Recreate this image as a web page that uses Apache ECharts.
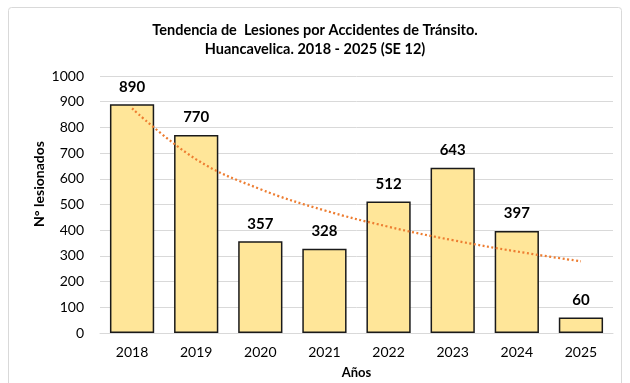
<!DOCTYPE html>
<html>
<head>
<meta charset="utf-8">
<script src="https://cdn.jsdelivr.net/npm/echarts@6/dist/echarts.min.js"></script>
<style>
  html, body { margin: 0; padding: 0; background: #fff; }
  #chart { width: 630px; height: 383px; }
</style>
</head>
<body>
<div id="chart"></div>
<script>
// Injured people in traffic accidents, Huancavelica, by year
const years = ['2018', '2019', '2020', '2021', '2022', '2023', '2024', '2025'];
const injured = [890, 770, 357, 328, 512, 643, 397, 60];
const yTicks = [0, 100, 200, 300, 400, 500, 600, 700, 800, 900, 1000];

// Logarithmic trend line (least squares fit of y = a + b·ln(x), x = 1..n)
function logTrend(values) {
  const n = values.length;
  const lx = values.map((_, i) => Math.log(i + 1));
  const mx = lx.reduce((s, v) => s + v, 0) / n;
  const my = values.reduce((s, v) => s + v, 0) / n;
  let sxx = 0, sxy = 0;
  for (let i = 0; i < n; i++) {
    sxx += (lx[i] - mx) * (lx[i] - mx);
    sxy += (lx[i] - mx) * values[i];
  }
  const b = sxy / sxx;
  const a = my - b * mx;
  return lx.map(v => +(a + b * v).toFixed(1));
}
const trend = logTrend(injured);

const FONT = 'Lato';
const chart = echarts.init(document.getElementById('chart'), null, { renderer: 'canvas' });

chart.setOption({
  animation: false,
  backgroundColor: '#fff',
  textStyle: { fontFamily: FONT, color: '#000' },
  title: {
    text: 'Tendencia de  Lesiones por Accidentes de Tránsito.\nHuancavelica. 2018 - 2025 (SE 12)',
    left: 'center',
    top: 16,
    textStyle: { fontFamily: FONT, fontSize: 14.5, fontWeight: 'bold', color: '#000', lineHeight: 19 }
  },
  graphic: [
    {
      type: 'rect',
      shape: { x: 8.5, y: 7.5, width: 613, height: 390, r: 3 },
      style: { fill: 'none', stroke: '#d9d9d9', lineWidth: 1 },
      silent: true
    },
    {
      type: 'text',
      x: 39, y: 184, rotation: Math.PI / 2,
      style: { text: 'N° lesionados', font: 'bold 14px ' + FONT, fill: '#000', align: 'center', verticalAlign: 'middle' }
    }
  ],
  grid: { left: 100, right: 17, top: 76, bottom: 50, outerBoundsMode: 'none', containLabel: false },
  xAxis: {
    type: 'category',
    data: years,
    name: 'Años',
    nameLocation: 'middle',
    nameGap: 33,
    nameTextStyle: { fontFamily: FONT, fontSize: 13, fontWeight: 'bold', color: '#000' },
    axisLine: { lineStyle: { color: '#d9d9d9', width: 1 } },
    axisTick: { show: false },
    axisLabel: { fontFamily: FONT, fontSize: 14, color: '#000', margin: 12 }
  },
  yAxis: {
    type: 'value',
    min: yTicks[0],
    max: yTicks[yTicks.length - 1],
    interval: yTicks[1] - yTicks[0],
    axisLine: { show: false },
    axisTick: { show: false },
    splitLine: { lineStyle: { color: '#d9d9d9', width: 1 } },
    axisLabel: { fontFamily: FONT, fontSize: 14, color: '#000', margin: 16, formatter: v => String(v) }
  },
  series: [
    {
      type: 'bar',
      data: injured,
      barCategoryGap: '31%',
      itemStyle: { color: '#FFE699', borderColor: '#1a1a1a', borderWidth: 1.5 },
      label: {
        show: true,
        position: 'top',
        distance: 10,
        fontFamily: FONT,
        fontSize: 15,
        fontWeight: 'bold',
        color: '#000'
      },
      z: 2
    },
    {
      type: 'line',
      data: trend,
      smooth: 0.4,
      showSymbol: false,
      lineStyle: { color: '#ED7D31', width: 2.25, type: [2, 2.5] },
      z: 3,
      silent: true
    }
  ]
});
</script>
</body>
</html>
